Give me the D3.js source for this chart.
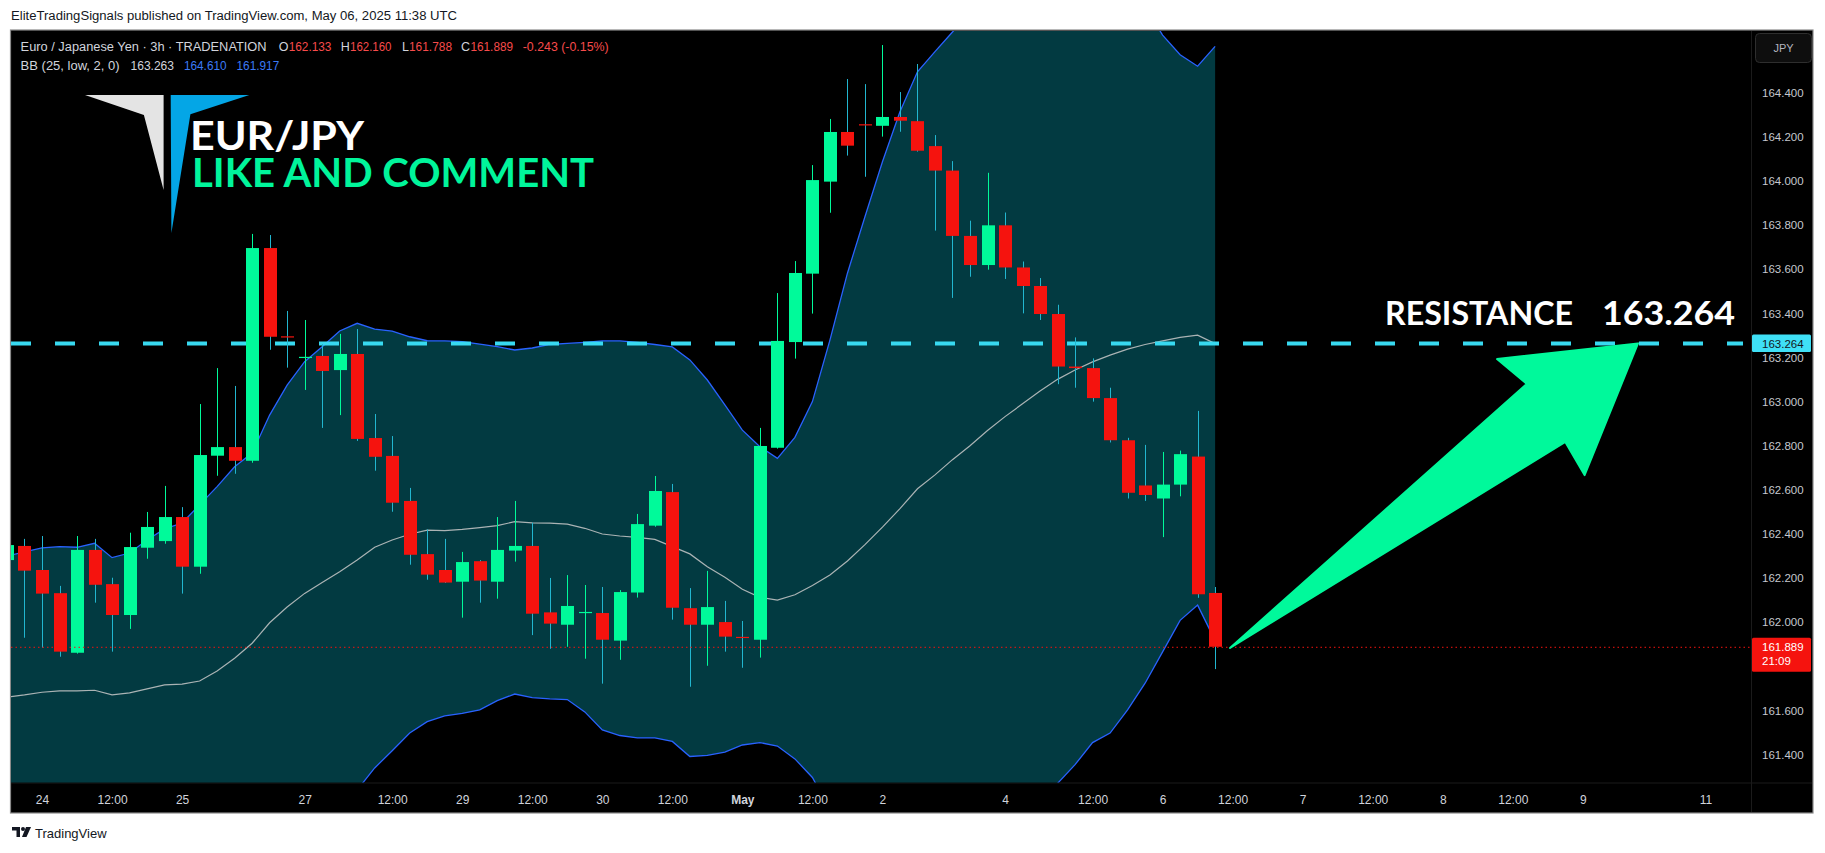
<!DOCTYPE html>
<html><head><meta charset="utf-8">
<script src="https://cdn.jsdelivr.net/npm/d3@7"></script>
<style>
html,body{margin:0;padding:0;background:#fff;}
svg{display:block;}
</style></head>
<body>
<svg id="c" width="1825" height="853"></svg>
<script>
// ---------- DATA ----------
const firstBar = -2; // bar index of first value (0 = Apr 24 00:00, 3h bars, weekend skipped)
const opens  = [162.282,162.346,162.237,162.132,161.862,162.328,162.173,162.033,162.338,162.368,162.477,162.252,162.755,162.794,162.732,163.696,163.296,163.200,163.207,163.143,163.216,162.835,162.754,162.550,162.309,162.237,162.184,162.277,162.184,162.325,162.346,162.045,161.989,162.045,162.042,161.917,162.135,162.438,162.590,162.064,161.989,162.001,161.934,161.921,162.791,163.270,163.580,163.997,164.222,164.257,164.250,164.290,164.271,164.158,164.047,163.751,163.619,163.799,163.608,163.524,163.397,163.159,163.152,163.016,162.825,162.620,162.561,162.624,162.751,162.133];
const highs  = [162.380,162.378,162.391,162.165,162.391,162.378,162.202,162.406,162.500,162.618,162.522,162.989,163.152,163.071,163.760,163.755,163.411,163.370,163.261,163.307,163.329,162.944,162.844,162.609,162.421,162.378,162.319,162.282,162.477,162.550,162.451,162.201,162.214,162.169,162.160,162.146,162.491,162.663,162.627,162.155,162.233,162.097,162.006,162.881,163.492,163.637,164.072,164.281,164.462,164.439,164.616,164.403,164.530,164.208,164.090,163.820,164.037,163.857,163.635,163.560,163.439,163.291,163.196,163.063,162.836,162.804,162.772,162.778,162.958,162.160];
const lows   = [162.250,161.930,161.885,161.844,161.858,162.089,161.867,161.970,162.288,162.356,162.130,162.220,162.664,162.673,162.723,163.235,163.154,163.053,162.881,162.939,162.822,162.687,162.501,162.261,162.193,162.178,162.021,162.089,162.107,162.275,161.942,161.880,161.889,161.835,161.722,161.830,162.112,162.433,162.012,161.708,161.803,161.867,161.794,161.840,162.787,163.195,163.399,163.856,164.115,164.019,164.201,164.223,164.133,163.775,163.470,163.566,163.598,163.556,163.400,163.370,163.079,163.063,163.000,162.815,162.561,162.550,162.386,162.571,162.111,161.788];
const closes = [162.350,162.234,162.130,161.867,162.328,162.170,162.033,162.341,162.432,162.477,162.252,162.758,162.794,162.732,163.696,163.294,163.292,163.203,163.139,163.216,162.831,162.750,162.542,162.306,162.216,162.180,162.273,162.189,162.328,162.346,162.039,161.994,162.074,162.047,161.921,162.137,162.445,162.595,162.066,161.989,162.069,161.935,161.930,162.799,163.275,163.583,164.004,164.222,164.160,164.255,164.290,164.273,164.137,164.047,163.751,163.619,163.799,163.608,163.524,163.397,163.159,163.152,163.016,162.825,162.587,162.577,162.624,162.762,162.127,161.889];
const bbUpper = [162.300,162.319,162.337,162.343,162.340,162.358,162.293,162.314,162.373,162.423,162.450,162.532,162.615,162.705,162.767,162.939,163.075,163.181,163.249,163.320,163.355,163.329,163.320,163.294,163.276,163.275,163.272,163.261,163.249,163.234,163.243,163.259,163.264,163.269,163.275,163.275,163.269,163.259,163.248,163.189,163.098,162.985,162.871,162.796,162.743,162.838,163.000,163.279,163.582,163.838,164.087,164.314,164.495,164.586,164.675,164.760,164.830,164.880,164.910,164.930,164.930,164.930,164.905,164.920,164.870,164.790,164.661,164.572,164.520,164.610];
const bbBasis = [161.661,161.671,161.683,161.689,161.689,161.692,161.671,161.680,161.698,161.716,161.720,161.734,161.779,161.837,161.905,161.998,162.069,162.131,162.180,162.229,162.282,162.340,162.373,162.399,162.418,162.415,162.421,162.429,162.438,162.456,162.451,162.449,162.445,162.426,162.400,162.391,162.385,162.376,162.343,162.310,162.252,162.204,162.150,162.113,162.101,162.125,162.167,162.214,162.278,162.352,162.431,162.515,162.605,162.668,162.737,162.800,162.869,162.932,162.990,163.048,163.101,163.143,163.180,163.211,163.238,163.259,163.275,163.291,163.301,163.263];
const bbLower = [161.023,161.023,161.029,161.035,161.037,161.026,161.049,161.045,161.023,161.009,160.991,160.937,160.944,160.968,161.043,161.057,161.063,161.081,161.110,161.139,161.240,161.340,161.418,161.498,161.550,161.576,161.587,161.603,161.645,161.675,161.659,161.653,161.650,161.594,161.512,161.487,161.476,161.476,161.460,161.392,161.397,161.412,161.444,161.455,161.439,161.381,161.297,161.149,160.974,160.865,160.775,160.717,160.715,160.749,160.799,160.840,160.908,160.984,161.070,161.176,161.270,161.355,161.455,161.498,161.603,161.724,161.866,162.009,162.078,161.917];
// 161.800 is hidden behind the last-price tag in the reference
const priceTicks = [161.4,161.6,162.0,162.2,162.4,162.6,162.8,163.0,163.2,163.4,163.6,163.8,164.0,164.2,164.4];
const timeTickBars = [0,4,8,15,20,24,28,32,36,40,44,48,55,60,64,68,72,76,80,84,88,95];
const timeTickLabels = ["24","12:00","25","27","12:00","29","12:00","30","12:00","May","12:00","2","4","12:00","6","12:00","7","12:00","8","12:00","9","11"];
const resistance = 163.264;
const lastPrice = 161.889;
const countdown = "21:09";
// arrow annotation in [bar, price]
const arrowPts = [[67.85,161.884],[84.8,163.080],[83.1,163.193],[91.15,163.264],[88.1,162.667],[87.0,162.817]];

// ---------- LAYOUT ----------
const svg = d3.select("#c");
const pane = {l:11, r:1751, t:31, b:782.5};
const x = d3.scaleLinear().domain([0,64]).range([42,1162.6]);
const y = d3.scaleLinear().domain([161.4,164.4]).range([754.7,92.7]);
const UP="#00fa9a", DOWN="#f5130e", DOWNWICK="#22b6cf";

const bars = opens.map((o,k)=>({i:firstBar+k,o,h:highs[k],l:lows[k],c:closes[k],u:bbUpper[k],m:bbBasis[k],lo:bbLower[k]}));

// frame
svg.append("rect").attr("x",10.5).attr("y",30).attr("width",1802.5).attr("height",783).attr("fill","#000").attr("stroke","#8a8a8a").attr("stroke-width",1.2);
svg.append("line").attr("x1",pane.r+0.5).attr("x2",pane.r+0.5).attr("y1",31).attr("y2",812).attr("stroke","#1b1b1b");
svg.append("line").attr("x1",11).attr("x2",1812).attr("y1",783).attr("y2",783).attr("stroke","#1b1b1b");

svg.append("defs").append("clipPath").attr("id","pc").append("rect")
  .attr("x",pane.l).attr("y",pane.t).attr("width",pane.r-pane.l).attr("height",pane.b-pane.t);
const g = svg.append("g").attr("clip-path","url(#pc)");

// Bollinger fill + lines
g.append("path").datum(bars).attr("fill","#023a41")
  .attr("d",d3.area().x(d=>x(d.i)).y0(d=>y(d.lo)).y1(d=>y(d.u)));
const ln = k=>d3.line().x(d=>x(d.i)).y(d=>y(d[k]));
g.append("path").datum(bars).attr("fill","none").attr("stroke","#2962ff").attr("stroke-width",1.3).attr("d",ln("u"));
g.append("path").datum(bars).attr("fill","none").attr("stroke","#2962ff").attr("stroke-width",1.3).attr("d",ln("lo"));
g.append("path").datum(bars).attr("fill","none").attr("stroke","#c9c9c9").attr("stroke-opacity",0.85).attr("stroke-width",1.2).attr("d",ln("m"));

// resistance dashed line
g.append("line").attr("x1",pane.l).attr("x2",pane.r-8).attr("y1",y(resistance)).attr("y2",y(resistance))
  .attr("stroke","#38d9f0").attr("stroke-width",4).attr("stroke-dasharray","20,24");

// candles
const cg = g.append("g");
cg.selectAll("line.w").data(bars).join("line")
  .attr("x1",d=>Math.round(x(d.i))+0.5).attr("x2",d=>Math.round(x(d.i))+0.5)
  .attr("y1",d=>y(d.h)).attr("y2",d=>y(d.l))
  .attr("stroke",d=>d.c>=d.o?UP:DOWNWICK).attr("stroke-width",1);
cg.selectAll("rect.b").data(bars).join("rect")
  .attr("x",d=>Math.round(x(d.i))-6).attr("width",13)
  .attr("y",d=>y(Math.max(d.o,d.c)))
  .attr("height",d=>Math.max(1.2,Math.abs(y(d.o)-y(d.c))))
  .attr("fill",d=>d.c>=d.o?UP:DOWN);

// last price dotted line
g.append("line").attr("x1",pane.l).attr("x2",pane.r).attr("y1",y(lastPrice)+0.5).attr("y2",y(lastPrice)+0.5)
  .attr("stroke",DOWN).attr("stroke-width",1).attr("stroke-dasharray","1.5,3");

// arrow
g.append("path").datum(arrowPts).attr("fill","#00f99b").attr("stroke","#00f99b").attr("stroke-width",2).attr("stroke-linejoin","round")
  .attr("d",d3.line().x(d=>x(d[0])).y(d=>y(d[1])).curve(d3.curveLinearClosed));

// logo
const lg = svg.append("g");
lg.append("polygon").attr("points","85,95 163.6,95 163.6,190 143.9,115").attr("fill","#e4e4e4");
lg.append("polygon").attr("points","170.7,95 249.3,95 190.4,114.3 171.4,233").attr("fill","#04a6e6");
const big = "Lato, 'Open Sans', sans-serif";
lg.append("text").attr("x",190).attr("y",150).attr("font-family",big).attr("font-weight",700).attr("font-size",41)
  .attr("fill","#fff").attr("textLength",174).attr("lengthAdjust","spacingAndGlyphs").text("EUR/JPY");
lg.append("text").attr("x",192).attr("y",187).attr("font-family",big).attr("font-weight",700).attr("font-size",41)
  .attr("fill","#00f59b").attr("textLength",402).attr("lengthAdjust","spacingAndGlyphs").text("LIKE AND COMMENT");

// resistance label text
svg.append("text").attr("x",1385).attr("y",325).attr("font-family",big).attr("font-weight",700).attr("font-size",32)
  .attr("fill","#fff").attr("textLength",188).attr("lengthAdjust","spacingAndGlyphs").text("RESISTANCE");
svg.append("text").attr("x",1602).attr("y",325).attr("font-family",big).attr("font-weight",700).attr("font-size",32)
  .attr("fill","#fff").attr("textLength",133).attr("lengthAdjust","spacingAndGlyphs").text(resistance.toFixed(3));

// price axis
const ui = "'Liberation Sans', Arial, sans-serif";
const pa = svg.append("g").attr("transform","translate(1762,0)")
  .call(d3.axisRight(y).tickValues(priceTicks).tickFormat(d3.format(".3f")).tickSize(0).tickPadding(0));
pa.select(".domain").remove();
pa.selectAll("text").attr("font-family",ui).attr("font-size",11.5).attr("fill","#c5c8ce");

// JPY button
svg.append("rect").attr("x",1755.5).attr("y",33.5).attr("width",56).attr("height",29).attr("rx",4)
  .attr("fill","#0e0e0e").attr("stroke","#2e2e2e");
svg.append("text").attr("x",1783.5).attr("y",52).attr("text-anchor","middle").attr("font-family",ui).attr("font-size",11)
  .attr("fill","#b2b5be").text("JPY");

// resistance price tag
svg.append("rect").attr("x",1752).attr("y",y(resistance)-9).attr("width",59).attr("height",17.5).attr("rx",1.5).attr("fill","#3fe0f6");
svg.append("text").attr("x",1762).attr("y",y(resistance)+4.3).attr("font-family",ui).attr("font-size",11.5).attr("fill","#131722").text(resistance.toFixed(3));

// last price tag
svg.append("rect").attr("x",1752).attr("y",y(lastPrice)-9).attr("width",59).attr("height",34).attr("rx",1.5).attr("fill",DOWN);
svg.append("text").attr("x",1762).attr("y",y(lastPrice)+4.5).attr("font-family",ui).attr("font-size",11.5).attr("fill","#fff").text(lastPrice.toFixed(3));
svg.append("text").attr("x",1762).attr("y",y(lastPrice)+18).attr("font-family",ui).attr("font-size",11.5).attr("fill","#fff").text(countdown);

// time axis
const ta = svg.append("g").attr("transform","translate(0,795)")
  .call(d3.axisBottom(x).tickValues(timeTickBars).tickFormat((d,i)=>timeTickLabels[i]).tickSize(0).tickPadding(0));
ta.select(".domain").remove();
ta.selectAll("text").attr("font-family",ui).attr("font-size",12).attr("fill","#d1d4dc")
  .attr("font-weight",(d,i)=>timeTickLabels[i]==="May"?700:400);

// legend
function t(xp,yp,s,col,len){const e=svg.append("text").attr("x",xp).attr("y",yp).attr("font-family",ui).attr("font-size",12.5).attr("fill",col).text(s);
  if(len) e.attr("textLength",len).attr("lengthAdjust","spacingAndGlyphs");}
const G="#d1d4dc", R="#f74b4b", B="#3b7af5";
t(20.6,51,"Euro / Japanese Yen · 3h · TRADENATION",G,246);
t(278.8,51,"O",G); t(288.7,51,"162.133",R,42.7);
t(340.8,51,"H",G); t(350,51,"162.160",R,41.5);
t(402,51,"L",G); t(409,51,"161.788",R,43);
t(461,51,"C",G); t(470.5,51,"161.889",R,42.5);
t(522.7,51,"-0.243 (-0.15%)",R,86);
t(20.6,69.5,"BB (25, low, 2, 0)",G,99);
t(130.5,69.5,"163.263",G,43.5); t(183.9,69.5,"164.610",B,42.7); t(236.5,69.5,"161.917",B,42.7);

// header
svg.append("text").attr("x",11).attr("y",20).attr("font-family",ui).attr("font-size",12.5).attr("fill","#131722")
  .attr("textLength",446).attr("lengthAdjust","spacingAndGlyphs")
  .text("EliteTradingSignals published on TradingView.com, May 06, 2025 11:38 UTC");

// footer TradingView logo
const fl = svg.append("g").attr("transform","translate(12,827)").attr("fill","#131722");
fl.append("path").attr("d","M0 0 H8 V10 H4.5 V3.5 H0 Z");
fl.append("circle").attr("cx",11).attr("cy",2).attr("r",2);
fl.append("path").attr("d","M14 0 H19 L14.5 10 H10 Z");
svg.append("text").attr("x",35).attr("y",838).attr("font-family",ui).attr("font-size",13).attr("fill","#131722").text("TradingView");
</script>
</body></html>
